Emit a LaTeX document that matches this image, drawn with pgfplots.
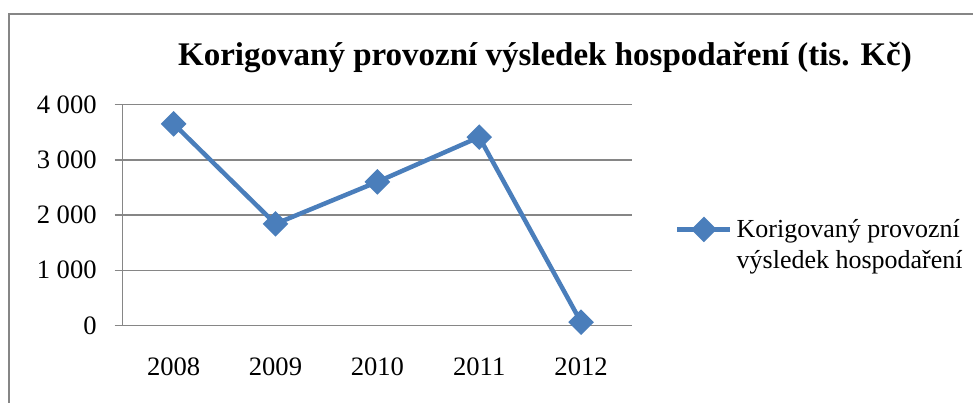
\documentclass[border=0pt]{standalone}
\usepackage{fontspec}
\setmainfont{Liberation Serif}
\usepackage{pgfplots}
\pgfplotsset{compat=1.18}
\definecolor{xlblue}{RGB}{74,126,187}
\definecolor{xlgrid}{RGB}{134,134,134}
\begin{document}
\begin{tikzpicture}[x=0.5pt,y=0.5pt]
\useasboundingbox (0,0) rectangle (973,402);
\draw[xlgrid, line width=1pt] (9,-20) -- (9,388) -- (1000,388);
\node[font=\fontsize{16.5}{19}\selectfont\bfseries] at (545,344) {Korigovaný provozní výsledek hospodaření (tis. Kč)};
\begin{axis}[
  at={(61.35pt,38.25pt)}, anchor=south west,
  scale only axis, width=254.65pt, height=110.5pt,
  xmin=-0.5, xmax=4.5, ymin=0, ymax=4000,
  clip=false,
  axis x line*=bottom, axis y line*=left,
  axis line style={xlgrid, line width=0.75pt, -},
  xtick={0,...,4}, xticklabels={2008,2009,2010,2011,2012},
  x tick style={draw=none},
  extra x ticks={-0.5,0.5,1.5,2.5,3.5,4.5}, extra x tick labels={},
  extra x tick style={major tick length=3pt, tick align=outside,
    tick style={draw=xlgrid, line width=0.75pt}},
  ytick={0,1000,...,4000},
  y tick style={draw=xlgrid, line width=0.75pt},
  tick align=outside, major tick length=4pt,
  ymajorgrids, grid style={xlgrid, line width=0.75pt},
  tick label style={font=\fontsize{13.3}{16}\selectfont},
  /pgf/number format/assume math mode=true,
  /pgf/number format/1000 sep={\ },
  xticklabel style={yshift=-8.75pt},
  yticklabel style={xshift=-5.5pt},
  legend style={at={(1.084,0.36)}, anchor=west, draw=none, fill=none,
    font=\fontsize{13}{15.5}\selectfont, cells={align=left}, inner sep=0pt},
  legend image code/.code={
    \path[draw=none, fill=none] (0pt,-14pt) rectangle (26.5pt,14pt);
    \draw[mark repeat=2,mark phase=2,#1] plot coordinates {(0pt,8.25pt) (13.25pt,8.25pt) (26.5pt,8.25pt)};},
]
\addplot[xlblue, line width=2.25pt, mark=square*, mark size=3.4pt,
  mark options={rotate=45, solid}]
  coordinates {(0,3650) (1,1840) (2,2600) (3,3410) (4,60)};
\legend{Korigovaný provozní\\výsledek hospodaření}
\end{axis}
\end{tikzpicture}
\end{document}
